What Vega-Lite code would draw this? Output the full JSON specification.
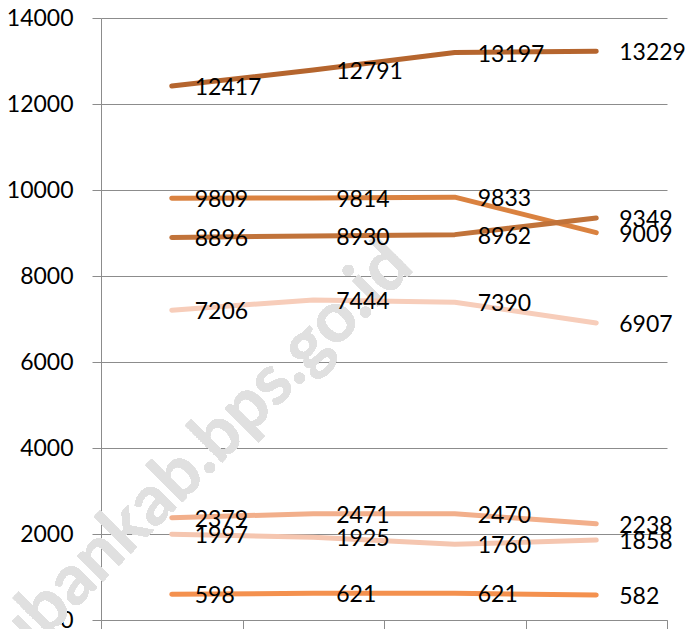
{
  "$schema": "https://vega.github.io/schema/vega-lite/v6.json",
  "width": 566,
  "height": 602,
  "autosize": "none",
  "padding": {"left": 101, "top": 18, "right": 25, "bottom": 9},
  "background": "white",
  "config": {"view": {"stroke": null}, "font": "Lato"},
  "data": {
    "values": [
      {"series": "A", "year": "2010", "value": 12417},
      {"series": "A", "year": "2011", "value": 12791},
      {"series": "A", "year": "2012", "value": 13197},
      {"series": "A", "year": "2013", "value": 13229},
      {"series": "B", "year": "2010", "value": 9809},
      {"series": "B", "year": "2011", "value": 9814},
      {"series": "B", "year": "2012", "value": 9833},
      {"series": "B", "year": "2013", "value": 9009},
      {"series": "C", "year": "2010", "value": 8896},
      {"series": "C", "year": "2011", "value": 8930},
      {"series": "C", "year": "2012", "value": 8962},
      {"series": "C", "year": "2013", "value": 9349},
      {"series": "D", "year": "2010", "value": 7206},
      {"series": "D", "year": "2011", "value": 7444},
      {"series": "D", "year": "2012", "value": 7390},
      {"series": "D", "year": "2013", "value": 6907},
      {"series": "E", "year": "2010", "value": 2379},
      {"series": "E", "year": "2011", "value": 2471},
      {"series": "E", "year": "2012", "value": 2470},
      {"series": "E", "year": "2013", "value": 2238},
      {"series": "F", "year": "2010", "value": 1997},
      {"series": "F", "year": "2011", "value": 1925},
      {"series": "F", "year": "2012", "value": 1760},
      {"series": "F", "year": "2013", "value": 1858},
      {"series": "G", "year": "2010", "value": 598},
      {"series": "G", "year": "2011", "value": 621},
      {"series": "G", "year": "2012", "value": 621},
      {"series": "G", "year": "2013", "value": 582}
    ]
  },
  "layer": [
    {
      "mark": {"type": "text", "text": "tubankab.bps.go.id", "angle": 315, "fontSize": 70, "fontWeight": "bold", "color": "#e0e0e0", "align": "center", "baseline": "middle", "dx": 30},
      "encoding": {
        "x": {"datum": "2010", "type": "ordinal", "bandPosition": 0.5},
        "y": {"datum": 3190, "type": "quantitative"}
      }
    },
    {
      "mark": {"type": "line", "strokeWidth": 5, "strokeCap": "round", "strokeJoin": "round"},
      "encoding": {
        "x": {"field": "year", "type": "ordinal", "bandPosition": 0.5},
        "y": {"field": "value", "type": "quantitative"},
        "color": {"field": "series", "type": "nominal", "legend": null,
          "scale": {"domain": ["A", "B", "C", "D", "E", "F", "G"],
                    "range": ["#b5652e", "#da8240", "#c1733a", "#f7cdba", "#f2af8b", "#f5c6b0", "#f4914f"]}}
      }
    },
    {
      "mark": {"type": "text", "align": "left", "baseline": "middle", "dx": 23, "dy": 2, "fontSize": 23, "color": "#000000"},
      "encoding": {
        "x": {"field": "year", "type": "ordinal", "bandPosition": 0.5},
        "y": {"field": "value", "type": "quantitative"},
        "text": {"field": "value", "type": "quantitative", "format": "d"}
      }
    }
  ],
  "resolve": {"scale": {"x": "shared", "y": "shared"}},
  "encoding": {
    "x": {
      "field": "year", "type": "ordinal",
      "scale": {"type": "band", "paddingInner": 0, "paddingOuter": 0, "domain": ["2010", "2011", "2012", "2013"]},
      "axis": {"title": null, "labels": false, "grid": false, "tickBand": "extent", "tickSize": 9, "tickColor": "#8c8c8c", "domainColor": "#8c8c8c", "tickWidth": 1, "domainWidth": 1}
    },
    "y": {
      "field": "value", "type": "quantitative",
      "scale": {"domain": [0, 14000], "nice": false, "zero": true},
      "axis": {"title": null, "values": [0, 2000, 4000, 6000, 8000, 10000, 12000, 14000], "format": "d", "grid": true, "gridColor": "#8c8c8c", "gridWidth": 1, "domain": true, "domainColor": "#8c8c8c", "tickColor": "#8c8c8c", "tickSize": 9, "labelPadding": 19, "labelFontSize": 23, "labelColor": "#000000", "labelFont": "Lato"}
    }
  }
}
